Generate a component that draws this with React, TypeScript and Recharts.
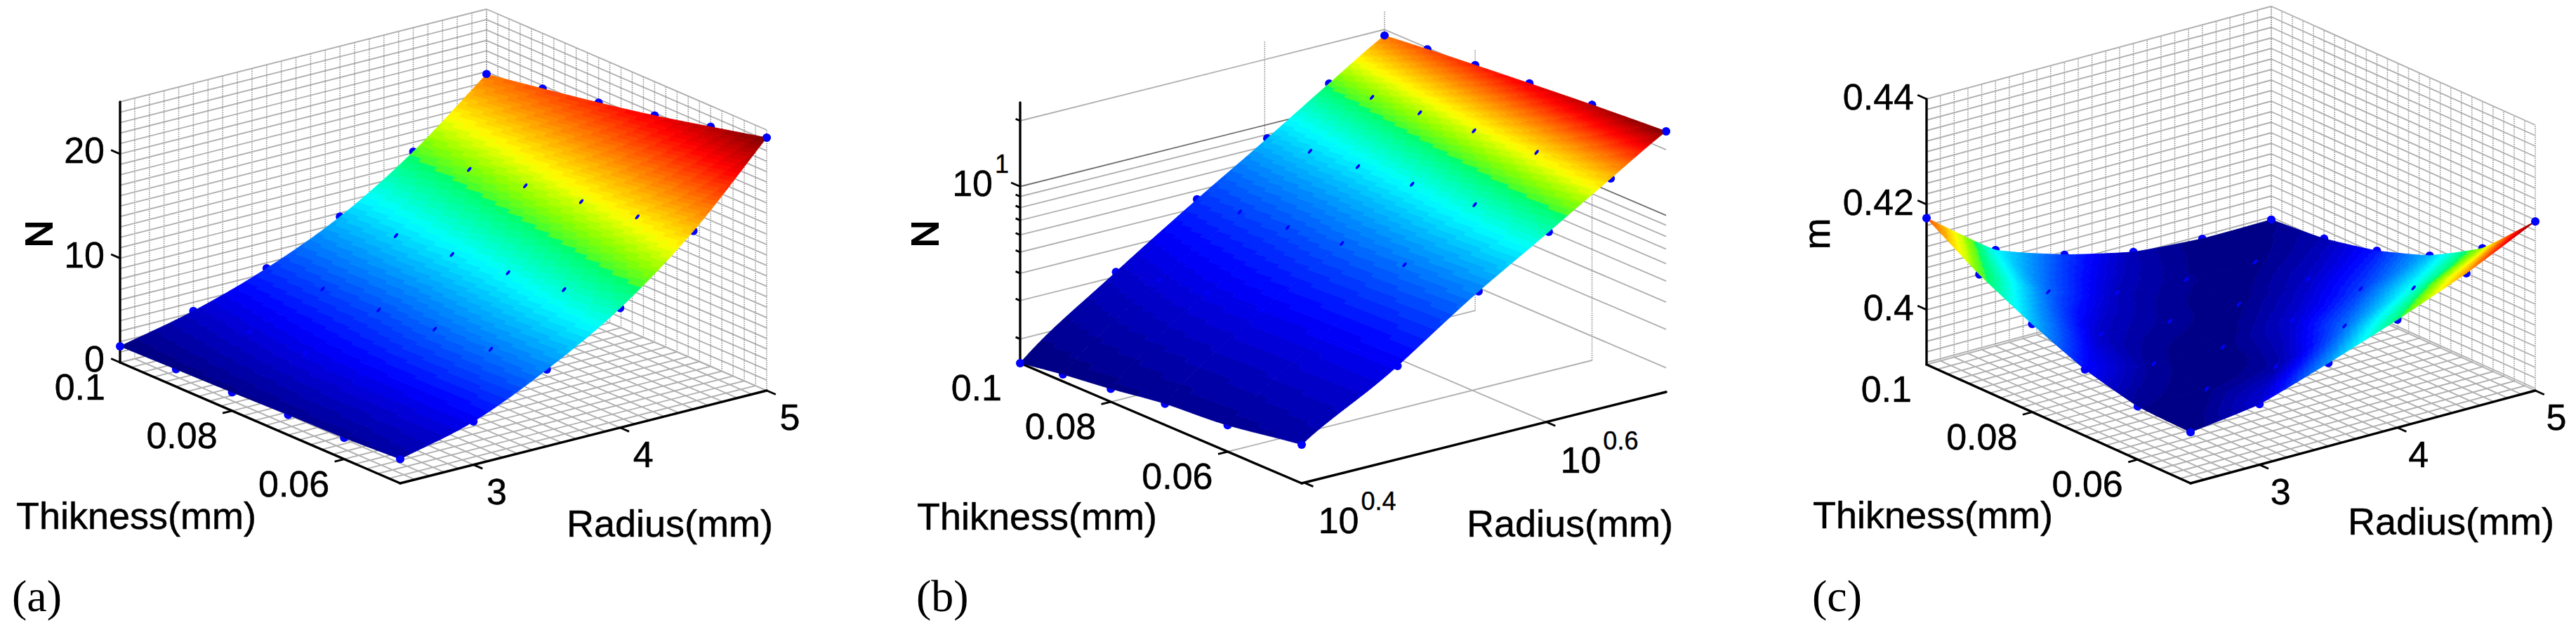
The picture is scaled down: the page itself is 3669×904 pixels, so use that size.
import React from 'react';
import { ScatterChart, Scatter, XAxis, YAxis } from 'recharts';

const WIDTH = 3669;
const HEIGHT = 904;

// values
const radiusValues = [2.5, 3, 3.5, 4, 4.5, 5];
const thicknessValues = [0.1, 0.09, 0.08, 0.07, 0.06, 0.05];

// rows follow thicknessValues, columns follow radiusValues
const forceValues = [
  [1.55, 3.15, 5.47, 8.64, 13.1, 18.76],
  [1.67, 3.5, 5.81, 9.15, 13.72, 19.69],
  [1.78, 3.8, 6.12, 9.65, 14.46, 20.66],
  [1.94, 4.0, 6.59, 10.23, 15.27, 21.74],
  [2.05, 4.1, 6.98, 10.93, 16.12, 22.98],
  [2.33, 4.15, 7.36, 11.47, 17.09, 24.26],
];
const exponentValues = [
  [0.4174, 0.4078, 0.4034, 0.4004, 0.3994, 0.3995],
  [0.4112, 0.4044, 0.4007, 0.3997, 0.3995, 0.4004],
  [0.4063, 0.4009, 0.3998, 0.3995, 0.4008, 0.4026],
  [0.4022, 0.3998, 0.3994, 0.401, 0.4034, 0.4062],
  [0.3997, 0.3995, 0.4002, 0.4044, 0.4081, 0.4121],
  [0.3993, 0.4011, 0.4054, 0.4101, 0.4154, 0.4217],
];

const gridRadiusLinear = Array.from({ length: 26 }, (_, k) => 2.5 + k * 0.1);
const gridThicknessLinear = Array.from({ length: 26 }, (_, k) => 0.05 + k * 0.002);
const gridForceLinear = Array.from({ length: 26 }, (_, k) => k);
const gridExponent = Array.from({ length: 26 }, (_, k) => 0.39 + k * 0.002);
const gridRadiusLog = [Math.pow(10, 0.6)];
const gridThicknessLog = [0.08, 0.06];
const gridForceLog = [2, 3, 4, 5, 6, 7, 8, 9, 10, 20];

const thicknessTicks = [
  { value: 0.1, text: '0.1' },
  { value: 0.08, text: '0.08' },
  { value: 0.06, text: '0.06' },
];
const radiusTicksLinear = [
  { value: 3, text: '3' },
  { value: 4, text: '4' },
  { value: 5, text: '5' },
];
const radiusTicksLog = [
  { value: Math.pow(10, 0.4), text: '10', sup: '0.4' },
  { value: Math.pow(10, 0.6), text: '10', sup: '0.6' },
];
const forceTicksLinear = [
  { value: 0, text: '0' },
  { value: 10, text: '10' },
  { value: 20, text: '20' },
];
const forceTicksLog = [
  { value: 2 }, { value: 3 }, { value: 4 }, { value: 5 }, { value: 6 }, { value: 7 }, { value: 8 }, { value: 9 },
  { value: 10, text: '10', sup: '1' },
  { value: 20 },
];
const exponentTicks = [
  { value: 0.4, text: '0.4' },
  { value: 0.42, text: '0.42' },
  { value: 0.44, text: '0.44' },
];

const linear = (lo: number, hi: number) => (v: number) => (v - lo) / (hi - lo);
const logScale = (lo: number, hi: number) => (v: number) => (Math.log10(v) - Math.log10(lo)) / (Math.log10(hi) - Math.log10(lo));

const FONT = '"Liberation Sans", Arial, sans-serif';

const PANELS = [
  {
    id: 'a',
    A: [171, 516], B: [570, 688], C: [1092, 556], zPx: 371,
    rs: linear(2.5, 5), ts: linear(0.1, 0.05), zs: linear(0, 25),
    values: forceValues, facet: 0,
    gridR: gridRadiusLinear, gridT: gridThicknessLinear, gridZ: gridForceLinear,
    rTicks: radiusTicksLinear, zTicks: forceTicksLinear,
    zMin: 0, rTickOff: [33, 56], tTickOff: [-21, 53], zTickOff: [-22, 13],
    labels: [
      { x: 23, y: 753, text: 'Thikness(mm)' },
      { x: 807, y: 764, text: 'Radius(mm)' },
      { x: 74, y: 333, text: 'N', rotate: true, heavy: true },
      { x: 17, y: 870, text: '(a)', serif: true },
    ],
  },
  {
    id: 'b',
    A: [1453, 517], B: [1854, 688], C: [2373, 558], zPx: 371,
    rs: logScale(2.5, 5), ts: logScale(0.1, 0.05), zs: logScale(1.55, 24.26),
    values: forceValues, facet: 0,
    gridR: gridRadiusLog, gridT: gridThicknessLog, gridZ: gridForceLog,
    rTicks: radiusTicksLog, zTicks: forceTicksLog,
    zMin: 1.55, rTickOff: [78, 72], tTickOff: [-21, 53], zTickOff: [-39, 13],
    labels: [
      { x: 1306, y: 754, text: 'Thikness(mm)' },
      { x: 2089, y: 764, text: 'Radius(mm)' },
      { x: 1336, y: 333, text: 'N', rotate: true, heavy: true },
      { x: 1305, y: 870, text: '(b)', serif: true },
    ],
  },
  {
    id: 'c',
    A: [2744, 519], B: [3120, 688], C: [3611, 556], zPx: 378,
    rs: linear(2.5, 5), ts: linear(0.1, 0.05), zs: linear(0.3896, 0.44),
    values: exponentValues, facet: 0.65,
    gridR: gridRadiusLinear, gridT: gridThicknessLinear, gridZ: gridExponent,
    rTicks: radiusTicksLinear, zTicks: exponentTicks,
    zMin: 0.3896, rTickOff: [30, 56], tTickOff: [-21, 53], zTickOff: [-18, 15],
    labels: [
      { x: 2582, y: 752, text: 'Thikness(mm)' },
      { x: 3344, y: 761, text: 'Radius(mm)' },
      { x: 2606, y: 333, text: 'm', rotate: true },
      { x: 2581, y: 870, text: '(c)', serif: true },
    ],
  },
];

type Panel = (typeof PANELS)[number];

// parallel projection of (radius, thickness, value) onto the page plane
const project = (p: Panel, r: number, t: number, z: number) => {
  const fr = p.rs(r);
  const ft = p.ts(t);
  const fz = p.zs(z);
  return {
    x: p.A[0] + fr * (p.C[0] - p.B[0]) + ft * (p.B[0] - p.A[0]),
    y: p.A[1] + fr * (p.C[1] - p.B[1]) + ft * (p.B[1] - p.A[1]) - fz * p.zPx,
  };
};

// jet, but with the saturated greens the reference shows between cyan and yellow
const jet = (v: number) => {
  const c = (a: number) => Math.round(255 * Math.max(0, Math.min(1, a)));
  let r = 1.5 - Math.abs(4 * v - 3);
  const g = 1.5 - Math.abs(4 * v - 2);
  let b = 1.5 - Math.abs(4 * v - 1);
  if (v >= 0.375 && v < 0.5) {
    r = 0;
    b = 1 - ((v - 0.375) / 0.125) * 0.6;
  } else if (v >= 0.5 && v < 0.625) {
    r = 0.25 + ((v - 0.5) / 0.125) * 0.75;
    b = Math.max(0, 0.2 - (v - 0.5) * 4);
  }
  return `rgb(${c(r)},${c(g)},${c(b)})`;
};

const catmull = (a: number, b: number, c: number, d: number, u: number) =>
  0.5 * (2 * b + (c - a) * u + (2 * a - 5 * b + 4 * c - d) * u * u + (3 * b - a - 3 * c + d) * u * u * u);

// surface shading between the table's nodes: a smooth patch, optionally mixed with
// the triangulated facets that show in panel (c)
const surfaceAt = (p: Panel, i: number, j: number, u: number, w: number) => {
  const vals = p.values;
  const col = (ii: number, jj: number) => {
    if (jj < 0) return 2 * vals[ii][0] - vals[ii][1];
    if (jj > 5) return 2 * vals[ii][5] - vals[ii][4];
    return vals[ii][jj];
  };
  const at = (ii: number, jj: number) => {
    if (ii < 0) return 2 * col(0, jj) - col(1, jj);
    if (ii > 5) return 2 * col(5, jj) - col(4, jj);
    return col(ii, jj);
  };
  const row = (ii: number) => catmull(at(ii, j - 1), at(ii, j), at(ii, j + 1), at(ii, j + 2), w);
  const smooth = catmull(row(i - 1), row(i), row(i + 1), row(i + 2), u);
  if (!p.facet) return smooth;
  const v00 = vals[i][j], v10 = vals[i + 1][j], v01 = vals[i][j + 1], v11 = vals[i + 1][j + 1];
  const flat = u + w <= 1
    ? v00 + u * (v10 - v00) + w * (v01 - v00)
    : v11 + (1 - u) * (v01 - v11) + (1 - w) * (v10 - v11);
  return p.facet * flat + (1 - p.facet) * smooth;
};

const SUB = 24;

const buildCells = (p: Panel) => {
  const all = p.values.flat();
  const lo = Math.min(...all);
  const hi = Math.max(...all);
  const cells: any[] = [];
  // back corner first, so nearer patches paint over farther ones
  for (let i = 0; i < 5; i++) {
    for (let j = 4; j >= 0; j--) {
      const anchor = project(p, radiusValues[j], thicknessValues[i], p.values[i][j]);
      const groups: Record<string, string> = {};
      const node = (a: number, b: number) => {
        const u = a / SUB;
        const w = b / SUB;
        const r = radiusValues[j] + w * (radiusValues[j + 1] - radiusValues[j]);
        const t = thicknessValues[i] + u * (thicknessValues[i + 1] - thicknessValues[i]);
        const pt = project(p, r, t, Math.max(p.zMin * 1.0001, surfaceAt(p, i, j, u, w)));
        return `${(pt.x - anchor.x).toFixed(1)} ${(pt.y - anchor.y).toFixed(1)}`;
      };
      for (let a = 0; a < SUB; a++) {
        for (let b = 0; b < SUB; b++) {
          const z = surfaceAt(p, i, j, (a + 0.5) / SUB, (b + 0.5) / SUB);
          const level = Math.max(0, Math.min(63, Math.floor(((z - lo) / (hi - lo)) * 64)));
          const color = jet((level + 0.5) / 64);
          groups[color] = (groups[color] || '') + `M${node(a, b)}L${node(a + 1, b)}L${node(a + 1, b + 1)}L${node(a, b + 1)}Z`;
        }
      }
      cells.push({ x: anchor.x, y: anchor.y, groups });
    }
  }
  return cells;
};

const buildNodes = (p: Panel) => {
  const nodes: any[] = [];
  p.values.forEach((row, i) =>
    row.forEach((z, j) => {
      const pt = project(p, radiusValues[j], thicknessValues[i], z);
      const edge = i === 0 || i === 5 || j === 0 || j === 5;
      const corner = (i === 0 || i === 5) && (j === 0 || j === 5);
      nodes.push({ ...pt, edge, corner });
    }),
  );
  return nodes;
};

const seg = (p: Panel, a: number[], b: number[], dotted = false, dark = false) => {
  const s = project(p, a[0], a[1], a[2]);
  const e = project(p, b[0], b[1], b[2]);
  return { x: s.x, y: s.y, x2: e.x, y2: e.y, dotted, dark };
};

const buildGrid = (p: Panel) => {
  const r0 = 2.5, r1 = 5, t0 = 0.1, t1 = 0.05;
  const zLo = p.zMin;
  const zHi = p.id === 'b' ? 24.26 : p.id === 'a' ? 25 : 0.44;
  const lines: any[] = [];
  p.gridR.forEach(r => {
    lines.push(seg(p, [r, t0, zLo], [r, t0, zHi], true));
    lines.push(seg(p, [r, t0, zLo], [r, t1, zLo]));
  });
  p.gridT.forEach(t => {
    lines.push(seg(p, [r1, t, zLo], [r1, t, zHi], true));
    lines.push(seg(p, [r0, t, zLo], [r1, t, zLo]));
  });
  p.gridZ.forEach(z => {
    const dark = p.id === 'b' && z === 10;
    lines.push(seg(p, [r0, t0, z], [r1, t0, z], false, dark));
    lines.push(seg(p, [r1, t0, z], [r1, t1, z], false, dark));
  });
  if (p.id === 'b') lines.push(seg(p, [r1, t0, zLo], [r1, t0, zHi], true));
  return lines;
};

const buildAxes = (p: Panel) => {
  const [ax, ay] = p.A;
  const [bx, by] = p.B;
  const [cx, cy] = p.C;
  return [
    { x: ax, y: ay, x2: bx, y2: by },
    { x: bx, y: by, x2: cx, y2: cy },
    { x: ax, y: ay, x2: ax, y2: ay - p.zPx },
  ];
};

const unit = (dx: number, dy: number, len: number) => {
  const n = Math.hypot(dx, dy);
  return [(dx / n) * len, (dy / n) * len];
};

const buildTicks = (p: Panel) => {
  const ab = [p.B[0] - p.A[0], p.B[1] - p.A[1]];
  const bc = [p.C[0] - p.B[0], p.C[1] - p.B[1]];
  const ticks: any[] = [];
  p.rTicks.forEach((k: any) => {
    const pt = project(p, k.value, 0.05, p.zMin);
    const d = unit(ab[0], ab[1], 14);
    ticks.push({ ...pt, ...k, dir: d, off: p.rTickOff, anchor: k.sup ? 'end' : 'middle' });
  });
  thicknessTicks.forEach(k => {
    const pt = project(p, 2.5, k.value, p.zMin);
    const d = unit(-bc[0], -bc[1], 14);
    ticks.push({ ...pt, ...k, dir: k.value === 0.1 ? [0, 0] : d, off: k.value === 0.1 && p.id === 'b' ? [-26, 53] : p.tTickOff, anchor: 'end' });
  });
  p.zTicks.forEach((k: any) => {
    const pt = project(p, 2.5, 0.1, k.value);
    const d = unit(-ab[0], -ab[1], k.text || p.id !== 'b' ? 14 : 7);
    ticks.push({ ...pt, ...k, dir: d, off: p.zTickOff, anchor: 'end' });
  });
  return ticks;
};

const GridLine = ({ cx, cy, payload }: any) => (
  <line
    x1={cx} y1={cy} x2={cx + payload.x2 - payload.x} y2={cy + payload.y2 - payload.y}
    stroke={payload.dark ? '#707070' : payload.dotted ? '#8c8c8c' : '#b0b0b0'}
    strokeWidth={payload.dotted ? 1.5 : 1.9}
    strokeDasharray={payload.dotted ? '1.5 1.5' : undefined}
  />
);

const AxisLine = ({ cx, cy, payload }: any) => (
  <line x1={cx} y1={cy} x2={cx + payload.x2 - payload.x} y2={cy + payload.y2 - payload.y} stroke="#000" strokeWidth={3.4} strokeLinecap="round" />
);

const Patch = ({ cx, cy, payload }: any) => (
  <g transform={`translate(${cx},${cy})`}>
    {Object.entries(payload.groups).map(([color, d]) => (
      <path key={color} d={d as string} fill={color} stroke={color} strokeWidth={0.8} />
    ))}
  </g>
);

const EdgeDot = ({ cx, cy }: any) => <circle cx={cx} cy={cy} r={6} fill="#0000ff" />;

const TopDot = ({ cx, cy, payload }: any) =>
  payload.corner ? (
    <circle cx={cx} cy={cy} r={5.5} fill="#0000ff" />
  ) : (
    <ellipse cx={cx} cy={cy} rx={4.2} ry={1.9} fill="#0000ff" transform={`rotate(-50 ${cx} ${cy})`} />
  );

const Tick = ({ cx, cy, payload }: any) => {
  const [ox, oy] = payload.off;
  return (
    <g>
      <line x1={cx} y1={cy} x2={cx + payload.dir[0]} y2={cy + payload.dir[1]} stroke="#000" strokeWidth={2.8} />
      {payload.text && (
        <text x={cx + ox} y={cy + oy} textAnchor={payload.anchor} fontFamily={FONT} fontSize={52} fill="#000" stroke="#000" strokeWidth={0.5}>
          {payload.text}
        </text>
      )}
      {payload.sup && (
        <text x={cx + ox + 3} y={cy + oy - 33} textAnchor="start" fontFamily={FONT} fontSize={36} fill="#000" stroke="#000" strokeWidth={0.4}>
          {payload.sup}
        </text>
      )}
    </g>
  );
};

const Label = ({ cx, cy, payload }: any) => (
  <text
    x={cx} y={cy}
    fontFamily={payload.serif ? '"Liberation Serif", serif' : FONT}
    fontSize={payload.serif ? 64 : 54}
    fill="#000"
    stroke="#000"
    strokeWidth={payload.heavy ? 2 : payload.serif ? 0 : 0.5}
    textAnchor={payload.rotate ? 'middle' : 'start'}
    transform={payload.rotate ? `rotate(-90 ${cx} ${cy})` : undefined}
  >
    {payload.text}
  </text>
);

export default function App() {
  return (
    <div style={{ position: 'absolute', left: 0, top: 0, width: WIDTH, height: HEIGHT, background: '#fff' }}>
      <ScatterChart width={WIDTH} height={HEIGHT} margin={{ top: 0, right: 0, bottom: 0, left: 0 }}>
        <XAxis type="number" dataKey="x" domain={[0, WIDTH]} hide />
        <YAxis type="number" dataKey="y" domain={[0, HEIGHT]} reversed hide width={0} />
        {PANELS.map(p => {
          const nodes = buildNodes(p);
          return (
            <React.Fragment key={p.id}>
              <Scatter data={buildGrid(p)} shape={GridLine} isAnimationActive={false} />
              <Scatter data={buildAxes(p)} shape={AxisLine} isAnimationActive={false} />
              <Scatter data={buildTicks(p)} shape={Tick} isAnimationActive={false} />
              <Scatter data={nodes.filter(n => n.edge)} shape={EdgeDot} isAnimationActive={false} />
              <Scatter data={buildCells(p)} shape={Patch} isAnimationActive={false} />
              <Scatter data={nodes.filter(n => !n.edge || n.corner)} shape={TopDot} isAnimationActive={false} />
              <Scatter data={p.labels} shape={Label} isAnimationActive={false} />
            </React.Fragment>
          );
        })}
      </ScatterChart>
    </div>
  );
}
